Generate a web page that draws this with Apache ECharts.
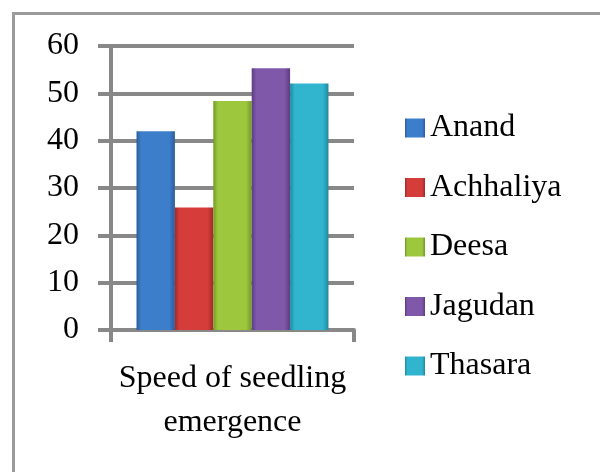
<!DOCTYPE html>
<html>
<head>
<meta charset="utf-8">
<script src="https://cdn.jsdelivr.net/npm/echarts@6/dist/echarts.min.js"></script>
<style>
  html, body { margin: 0; padding: 0; background: #fff; }
  #chart { width: 600px; height: 472px; }
</style>
</head>
<body>
<div id="chart"></div>
<script>
// data
var categories = ['Speed of seedling\nemergence'];
var places = ['Anand', 'Achhaliya', 'Deesa', 'Jagudan', 'Thasara'];
var speeds = [42, 25.9, 48.4, 55.3, 52.1];
var yTicks = [0, 10, 20, 30, 40, 50, 60];

// bar colours (main / dark edge)
var mainColors = ['#3d7ecb', '#d53d3b', '#9dc83d', '#7f58aa', '#31b5cf'];
var edgeColors = ['#2a5d9c', '#a02a28', '#729a25', '#5c3d80', '#1f8aa0'];

var myChart = echarts.init(document.getElementById('chart'));

var series = places.map(function (name, i) {
  return {
    name: name,
    type: 'bar',
    barGap: '0%',
    barCategoryGap: '21%',
    data: [speeds[i]],
    itemStyle: {
      color: new echarts.graphic.LinearGradient(0, 0, 1, 0, [
        { offset: 0, color: edgeColors[i] },
        { offset: 0.12, color: mainColors[i] },
        { offset: 0.85, color: mainColors[i] },
        { offset: 1, color: edgeColors[i] }
      ])
    },
    emphasis: { disabled: true }
  };
});

myChart.setOption({
  animation: false,
  color: mainColors,
  graphic: [{
    type: 'rect',
    left: 11,
    top: 11,
    shape: { width: 620, height: 500 },
    style: { fill: 'none', stroke: '#9a9a9a', lineWidth: 3 },
    silent: true
  }],
  grid: {
    left: 111,
    top: 46,
    width: 243,
    height: 284
  },
  legend: {
    orient: 'vertical',
    left: 400,
    top: 107,
    itemWidth: 20,
    itemHeight: 19,
    itemGap: 27.5,
    icon: 'rect',
    data: places,
    textStyle: {
      fontFamily: 'Liberation Serif',
      fontSize: 32,
      lineHeight: 30,
      color: '#000'
    }
  },
  xAxis: {
    type: 'category',
    data: categories,
    axisLine: { show: true, lineStyle: { color: '#888', width: 4 } },
    axisTick: { show: true, length: 12, lineStyle: { color: '#888', width: 4 } },
    axisLabel: {
      margin: 27,
      fontFamily: 'Liberation Serif',
      fontSize: 32,
      lineHeight: 44,
      color: '#000'
    }
  },
  yAxis: {
    type: 'value',
    min: yTicks[0],
    max: yTicks[yTicks.length - 1],
    interval: 10,
    axisLine: { show: true, lineStyle: { color: '#888', width: 4 } },
    axisTick: { show: true, length: 13, lineStyle: { color: '#888', width: 4 } },
    splitLine: { show: true, lineStyle: { color: '#888', width: 4 } },
    axisLabel: {
      margin: 32,
      fontFamily: 'Liberation Serif',
      fontSize: 32,
      color: '#000'
    }
  },
  series: series
});
</script>
</body>
</html>
